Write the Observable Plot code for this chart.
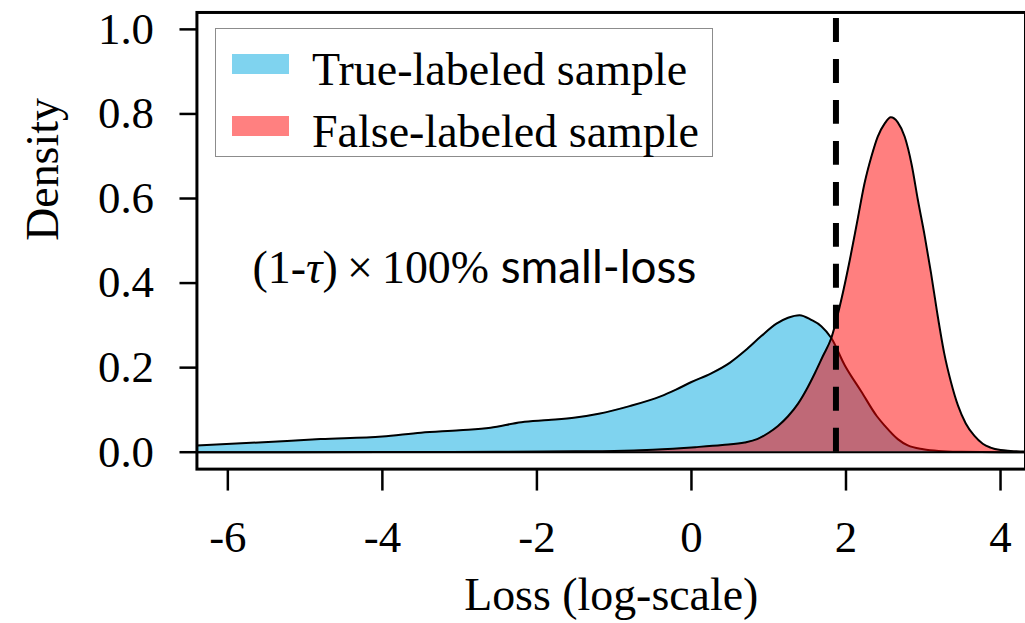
<!DOCTYPE html>
<html>
<head>
<meta charset="utf-8">
<script src="https://cdn.jsdelivr.net/npm/d3@7"></script>
<script src="https://cdn.jsdelivr.net/npm/@observablehq/plot@0.6"></script>
<style>
  html, body { margin: 0; padding: 0; background: #fff; overflow: hidden; }
  #wrap { position: relative; width: 1025px; height: 623px; overflow: hidden; }
  #legend {
    position: absolute; left: 215px; top: 28px; width: 496px; height: 127px;
    border: 1.5px solid #8c8c8c; background: #fff;
    font-family: "Liberation Serif", "Times New Roman", serif; font-size: 46px; color: #000;
  }
  .sw { position: absolute; left: 16px; width: 57px; height: 20px; }
  .lt { position: absolute; left: 96px; line-height: 1; white-space: nowrap; }
</style>
</head>
<body>
<div id="wrap"></div>
<script>
// ---- data ----
const trueX = [-6.4, -5.6, -4.8, -4.0, -3.5, -3.0, -2.6, -2.2, -1.85, -1.5, -1.2, -0.8, -0.4, -0.2, 0.0, 0.25, 0.5, 0.7, 0.9, 1.1, 1.25, 1.4, 1.55, 1.68, 1.81, 1.98, 2.2, 2.4, 2.5, 2.67, 2.8, 3.0, 3.2, 3.5, 4.0, 4.4];
const trueY = [0.016, 0.023, 0.031, 0.037, 0.046, 0.052, 0.058, 0.071, 0.076, 0.082, 0.091, 0.109, 0.132, 0.148, 0.166, 0.186, 0.212, 0.241, 0.274, 0.304, 0.318, 0.324, 0.313, 0.298, 0.27, 0.207, 0.143, 0.085, 0.063, 0.031, 0.016, 0.007, 0.003, 0.001, 0.0, 0.0];

const falseX = [-6.4, -4.0, -2.5, -1.5, -1.0, -0.5, 0.05, 0.4, 0.69, 0.85, 1.0, 1.12, 1.25, 1.38, 1.5, 1.6, 1.7, 1.81, 1.94, 2.05, 2.15, 2.24, 2.33, 2.41, 2.5, 2.58, 2.67, 2.76, 2.85, 2.93, 3.02, 3.10, 3.18, 3.27, 3.36, 3.45, 3.55, 3.66, 3.77, 3.87, 4.0, 4.13, 4.4];
const falseY = [0.0, 0.0003, 0.001, 0.002, 0.003, 0.006, 0.012, 0.017, 0.023, 0.031, 0.046, 0.062, 0.085, 0.115, 0.152, 0.188, 0.227, 0.27, 0.361, 0.455, 0.55, 0.636, 0.70, 0.746, 0.777, 0.792, 0.78, 0.746, 0.68, 0.597, 0.51, 0.424, 0.33, 0.235, 0.165, 0.110, 0.068, 0.039, 0.02, 0.011, 0.005, 0.003, 0.001];

const seriesNames = ["True-labeled sample", "False-labeled sample"];
const seriesColors = ["#7fd3ef", "#ff8080"];
const xTicks = [-6, -4, -2, 0, 2, 4];
const yTicks = [0.0, 0.2, 0.4, 0.6, 0.8, 1.0];
const threshold = [1.87];
const annotation = ["(1-τ)\u2009×\u2009100% small-loss"];
const xTitle = ["Loss (log-scale)"];
const yTitle = ["Density"];

// ---- build ----
const trueData = trueX.map((x, i) => ({x, y: trueY[i]}));
const falseData = falseX.map((x, i) => ({x, y: falseY[i]}));

const plot = Plot.plot({
  width: 1028, height: 623,
  marginLeft: 197, marginRight: 0, marginTop: 12, marginBottom: 153,
  x: {domain: [-6.4, 4.323]},
  y: {domain: [-0.04, 1.04]},
  style: {fontFamily: '"Liberation Serif", "Times New Roman", serif', fontSize: "45px", color: "black", background: "white", overflow: "visible"},
  marks: [
    Plot.areaY(trueData, {x: "x", y: "y", fill: seriesColors[0], curve: "monotone-x", clip: true}),
    Plot.lineY(trueData, {x: "x", y: "y", stroke: "black", strokeWidth: 2, curve: "monotone-x", clip: true}),
    Plot.areaY(falseData, {x: "x", y: "y", fill: "#ff0000", fillOpacity: 0.5, curve: "monotone-x", clip: true}),
    Plot.lineY(falseData, {x: "x", y: "y", stroke: "black", strokeWidth: 2, curve: "monotone-x", clip: true}),
    Plot.ruleY([0], {stroke: "black", strokeWidth: 2}),
    Plot.ruleX(threshold, {x: d => d, y1: 0, y2: 1.026, stroke: "black", strokeWidth: 6, strokeDasharray: "24,17.1"}),
    Plot.text(annotation, {x: -5.68, y: 0.40, text: d => d, textAnchor: "start", lineAnchor: "bottom", fontSize: 46, fontFamily: "Lato"}),
    Plot.frame({stroke: "black", strokeWidth: 3}),
    Plot.axisX({ticks: xTicks, tickFormat: d => String(d), tickSize: 22, tickPadding: 29, strokeWidth: 2.5, label: null, fontSize: 45}),
    Plot.axisY({ticks: yTicks, tickFormat: d3.format(".1f"), tickSize: 17, tickPadding: 26, strokeWidth: 2.5, label: null, fontSize: 45}),
    Plot.text(xTitle, {frameAnchor: "bottom", dy: 141, text: d => d, lineAnchor: "bottom", fontSize: 46}),
    Plot.text(yTitle, {frameAnchor: "left", dx: -139, rotate: -90, text: d => d, lineAnchor: "bottom", fontSize: 46})
  ]
});

// styled annotation: serif math part with italic tau, sans text part
d3.select(plot).selectAll("text").filter(function() { return this.textContent === annotation[0]; })
  .each(function() {
    const t = d3.select(this);
    t.text(null);
    t.append("tspan").attr("font-family", '"Liberation Serif", serif').text("(1-");
    t.append("tspan").attr("font-family", '"Liberation Serif", serif').attr("font-style", "italic").text("τ");
    t.append("tspan").attr("font-family", '"Liberation Serif", serif').text(")\u2009×\u2009100%");
    t.append("tspan").attr("font-family", "Lato").text(" small-loss");
  });

const wrap = document.getElementById("wrap");
wrap.appendChild(plot);

// legend
const legend = document.createElement("div");
legend.id = "legend";
seriesNames.forEach((name, i) => {
  const sw = document.createElement("div");
  sw.className = "sw";
  sw.style.top = (25 + i * 62) + "px";
  sw.style.background = seriesColors[i];
  legend.appendChild(sw);
  const lt = document.createElement("div");
  lt.className = "lt";
  lt.style.top = (18 + i * 62) + "px";
  lt.textContent = name;
  legend.appendChild(lt);
});
wrap.appendChild(legend);
</script>
</body>
</html>
